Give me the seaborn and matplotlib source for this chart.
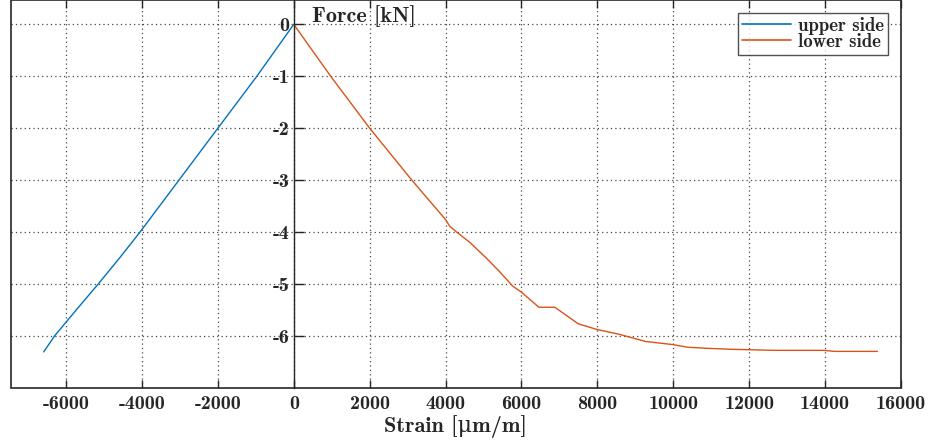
import numpy as np
import pandas as pd
import matplotlib
matplotlib.use("Agg")
import matplotlib.pyplot as plt
import seaborn as sns

# ---- data ----
upper_strain = [0, -974, -2000, -3025, -4050, -4590, -5150, -5730, -6300, -6590]
upper_force = [0, -1.0, -2.0, -3.0, -4.0, -4.5, -5.0, -5.5, -6.0, -6.31]

lower_strain = [0, 974, 2000, 2810, 3110, 4000, 4110, 4290, 4640, 5070, 5420, 5765, 6000,
                6460, 6880, 7500, 8000, 8570, 9280, 10000, 10380, 10860,
                11560, 12670, 13970, 14240, 15380]
lower_force = [0, -1.0, -2.0, -2.73, -3.0, -3.76, -3.89, -4.0, -4.2, -4.5, -4.76, -5.04, -5.16,
               -5.45, -5.45, -5.77, -5.88, -5.97, -6.11, -6.17, -6.22, -6.24,
               -6.26, -6.28, -6.28, -6.30, -6.30]

series_names = ["upper side", "lower side"]
series_colors = ["#0072BD", "#D95319"]

x_ticks = [-6000, -4000, -2000, 0, 2000, 4000, 6000, 8000, 10000, 12000, 14000, 16000]
y_ticks = [0, -1, -2, -3, -4, -5, -6]

x_label = "Strain [\u03bcm/m]"
y_label = "Force [kN]"

df = pd.concat([
    pd.DataFrame({"strain": upper_strain, "force": upper_force, "side": series_names[0]}),
    pd.DataFrame({"strain": lower_strain, "force": lower_force, "side": series_names[1]}),
], ignore_index=True)

sns.set_style("white")
plt.rcParams["font.family"] = ["cmb10", "DejaVu Serif"]
plt.rcParams["axes.unicode_minus"] = False
plt.rcParams["font.weight"] = "bold"

fig = plt.figure(figsize=(9.35, 4.43), dpi=100)
ax = fig.add_axes([0.0114, 0.1248, 0.9522, 0.8752])

edge = "#262626"
sns.lineplot(data=df, x="strain", y="force", hue="side", hue_order=series_names,
             palette=series_colors, sort=False, estimator=None, linewidth=1.0,
             ax=ax, legend=False)

ax.set_xlim(-7460, 16000)
ax.set_ylim(-7.0, 0.47)

ax.set_xticks(x_ticks)
ax.set_xticklabels([str(v) for v in x_ticks])
ax.set_yticks(y_ticks)
ax.set_yticklabels([str(v) for v in y_ticks])

# box around the axes
ax.patch.set_edgecolor(edge)
ax.patch.set_linewidth(1.2)
for s in ["top", "right", "bottom"]:
    ax.spines[s].set_visible(False)
ax.spines["left"].set_position(("data", 0))
ax.spines["left"].set_color(edge)
ax.spines["left"].set_linewidth(1.0)

ax.tick_params(axis="x", direction="in", length=6, width=1, color=edge,
               top=True, bottom=True, labelsize=14.5, pad=5, labelcolor="#262626")
ax.tick_params(axis="y", direction="in", length=7, width=1, color=edge,
               left=True, right=False, labelsize=14.5, pad=3, labelcolor="#262626")

ax.grid(True, linestyle=(0, (1, 2.5)), color="#262626", linewidth=0.9, alpha=0.85)
ax.set_axisbelow(True)

ax.set_xlabel(x_label, fontsize=16, color="#262626", labelpad=2)
ax.set_ylabel(y_label, fontsize=16, color="#262626", rotation=0, ha="left", va="center")
ax.yaxis.set_label_coords(0.3384, 0.958)

handles = [plt.Line2D([], [], color=c, lw=1.2) for c in series_colors]
leg = ax.legend(handles, series_names, loc="upper right",
                bbox_to_anchor=(0.9854, 0.966), borderaxespad=0,
                fontsize=13.5, frameon=True, fancybox=False, handlelength=2.6,
                handletextpad=0.4, labelspacing=-0.1, borderpad=0.2)
leg.get_frame().set_edgecolor(edge)
leg.get_frame().set_linewidth(1.0)
for t in leg.get_texts():
    t.set_color("#262626")

fig.savefig("out.png", dpi=100)
